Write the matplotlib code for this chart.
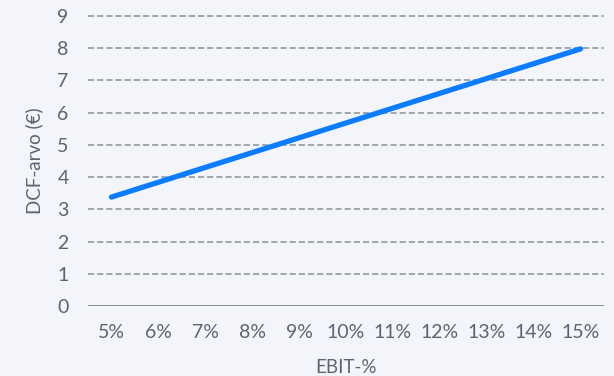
import matplotlib.pyplot as plt

# EBIT margin sensitivity of the DCF value
ebit_labels = ["5%", "6%", "7%", "8%", "9%", "10%", "11%", "12%", "13%", "14%", "15%"]
dcf_value = [3.38, 3.84, 4.30, 4.76, 5.22, 5.68, 6.14, 6.60, 7.06, 7.52, 7.98]
y_ticks = [0, 1, 2, 3, 4, 5, 6, 7, 8, 9]

bg = "#f3f5fa"
text_col = "#5b6571"
grid_col = "#8a9296"

plt.rcParams['font.family'] = ['Lato', 'DejaVu Sans']

fig = plt.figure(figsize=(6.14, 3.76), dpi=100, facecolor=bg)
ax = fig.add_axes([0.1433, 0.1862, 0.8404, 0.7712], facecolor=bg)

x = list(range(len(ebit_labels)))
ax.plot(x, dcf_value, color="#0a7cff", lw=3.8, solid_capstyle="round", zorder=3)

ax.set_xlim(-0.5, len(ebit_labels) - 0.5)
ax.set_ylim(0, 9)
ax.set_xticks(x)
ax.set_xticklabels(ebit_labels)
ax.set_yticks(y_ticks)

# dashed horizontal grid, solid baseline at zero
for v in y_ticks[1:]:
    ax.axhline(v, color=grid_col, lw=1.1, ls=(0, (4, 2)), zorder=1, clip_on=False)
ax.axhline(0, color=grid_col, lw=1.4, zorder=2)

for s in ax.spines.values():
    s.set_visible(False)

ax.tick_params(axis="both", length=0, labelsize=14, colors=text_col)
ax.tick_params(axis="y", pad=14)
ax.tick_params(axis="x", pad=13)

ax.set_xlabel("EBIT-%", fontsize=13.5, color=text_col, labelpad=13)
ax.set_ylabel("DCF-arvo (€)", fontsize=13.5, color=text_col, labelpad=10)

fig.savefig("out.png", dpi=100, facecolor=bg)
